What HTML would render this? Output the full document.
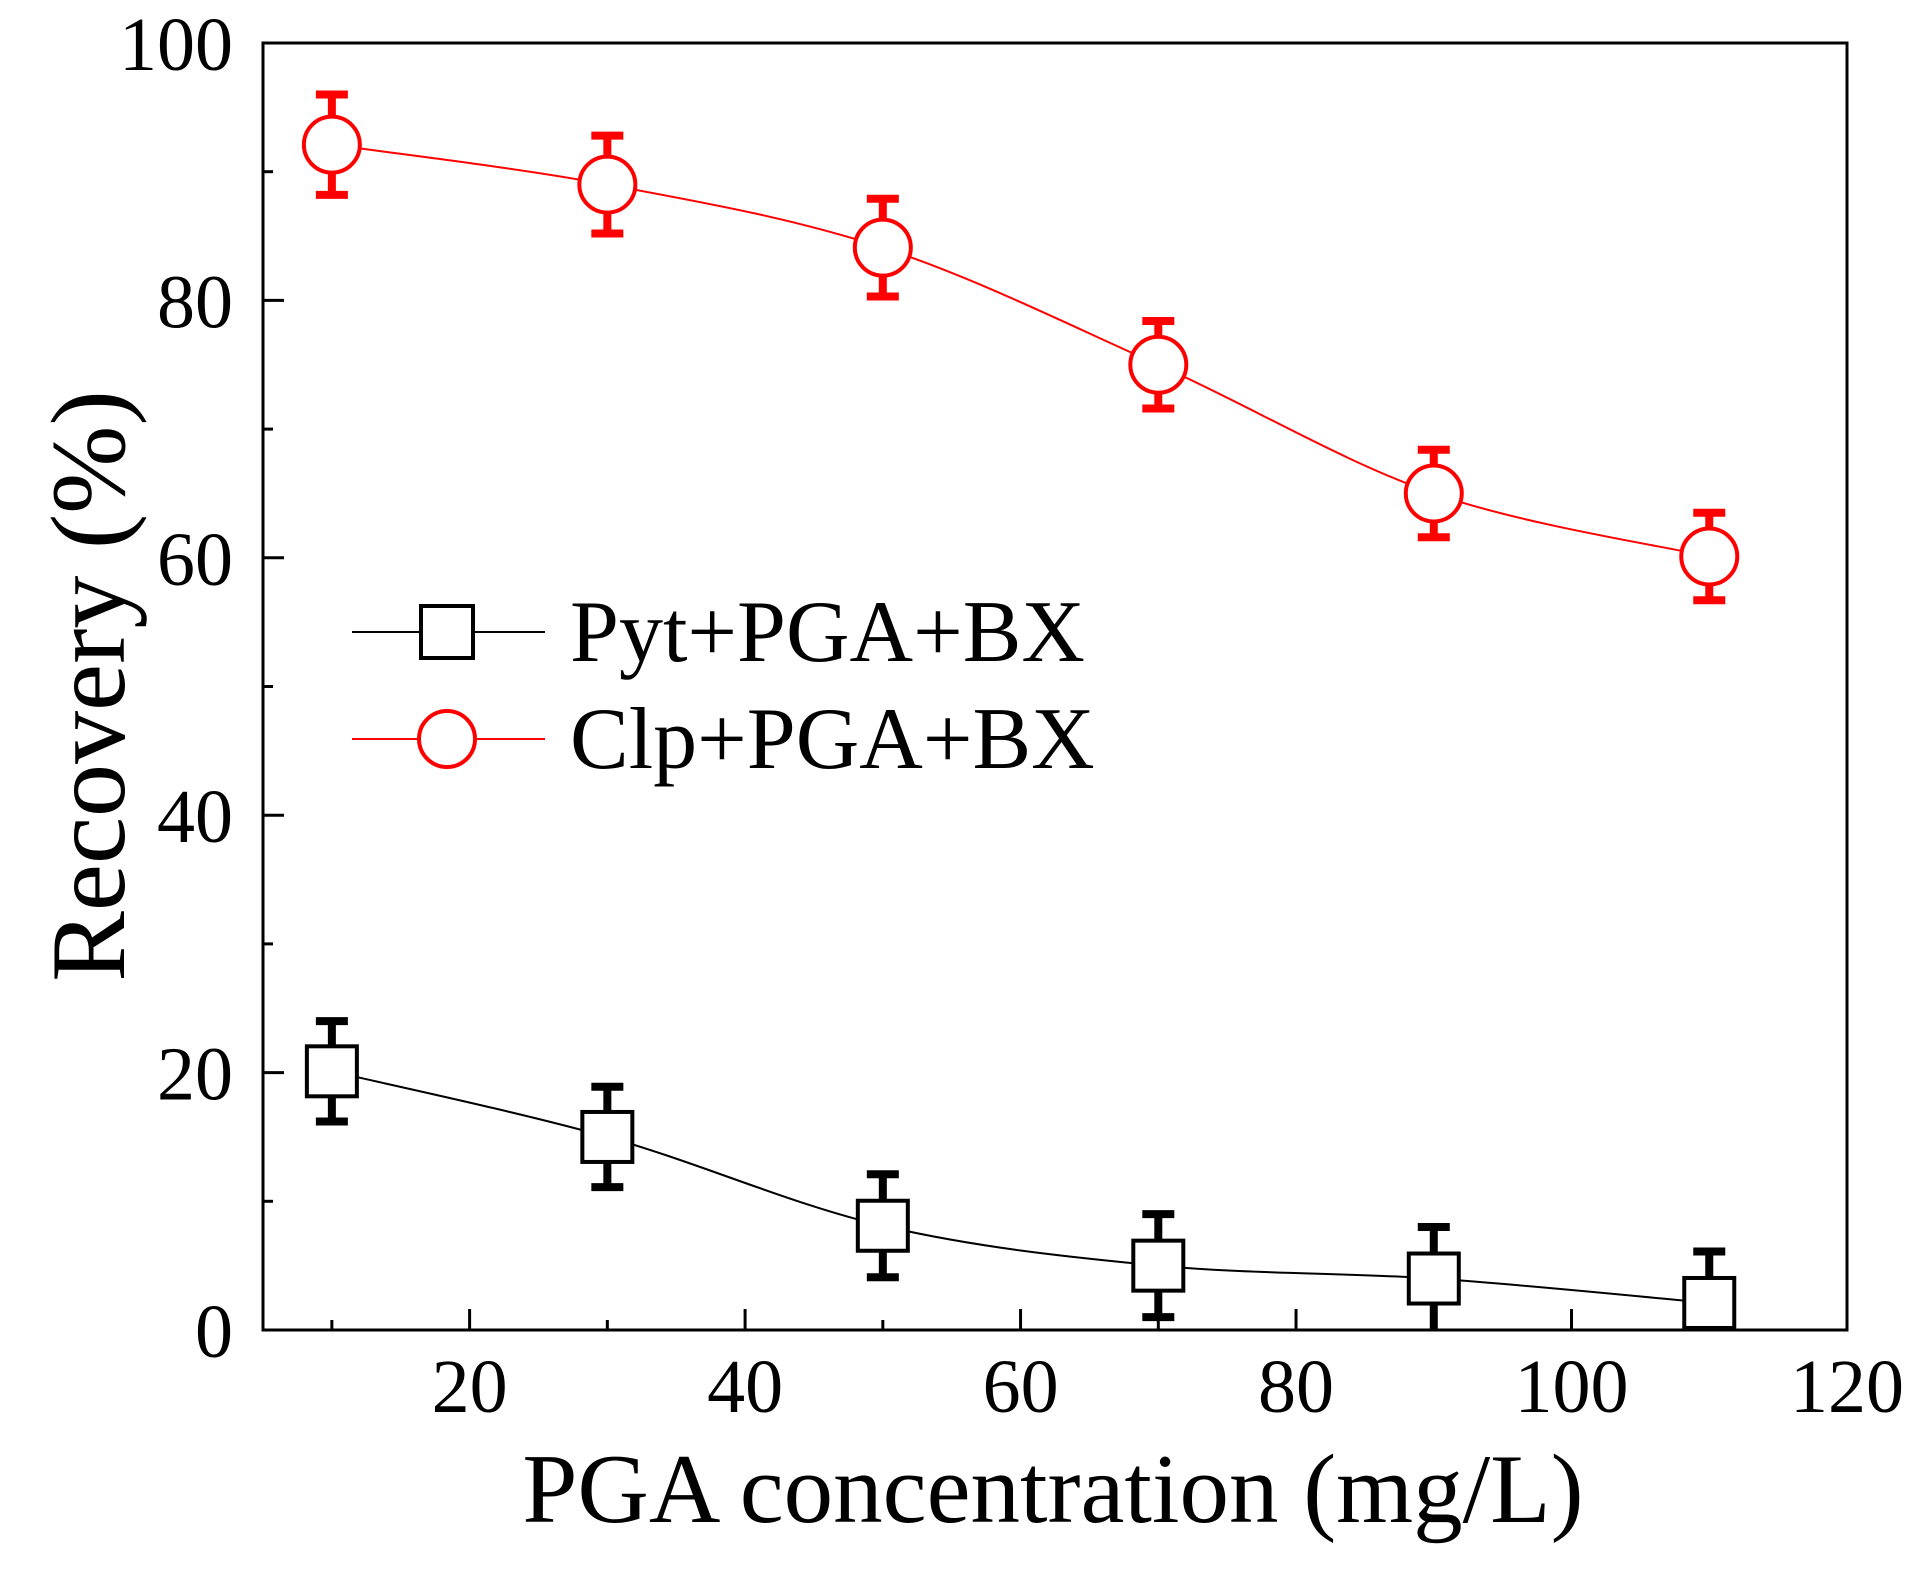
<!DOCTYPE html>
<html><head><meta charset="utf-8"><style>
html,body{margin:0;padding:0;background:#fff;}
svg{display:block;}
text{font-family:"Liberation Serif",serif;fill:#000;}
</style></head><body>
<svg id="chart" width="1922" height="1574" viewBox="0 0 1922 1574">
<defs><clipPath id="plotclip"><rect x="263" y="43" width="1584" height="1287"/></clipPath></defs>
<rect x="0" y="0" width="1922" height="1574" fill="#fff"/>
<g id="grid"></g>
<g id="series" clip-path="url(#plotclip)"></g>
<text x="1053" y="1522" font-size="99" text-anchor="middle">PGA concentration (mg/L)</text>
<text transform="translate(124,686) rotate(-90)" font-size="106" text-anchor="middle">Recovery (%)</text>
<g>
<g>
<line x1="352" y1="632" x2="545" y2="632" stroke="#000" stroke-width="2"/>
<rect x="421" y="606" width="52" height="52" fill="#fff" stroke="#000" stroke-width="4"/>
<text x="570" y="661" font-size="88">Pyt+PGA+BX</text>
</g>
<g>
<line x1="352" y1="739" x2="545" y2="739" stroke="#f00" stroke-width="2"/>
<circle cx="447" cy="739" r="28" fill="#fff" stroke="#f00" stroke-width="4"/>
<text x="570" y="768" font-size="88">Clp+PGA+BX</text>
</g>
</g>
</svg>
<script>
const xCats = [10, 30, 50, 70, 90, 110];
const clpValues = [92.1, 89.0, 84.1, 75.0, 65.0, 60.1];
const clpErrors = [3.9, 3.8, 3.8, 3.4, 3.4, 3.4];
const pytValues = [20.1, 15.0, 8.1, 5.0, 4.0, 2.1];
const pytErrors = [3.9, 3.9, 4.0, 4.0, 4.0, 4.0];
const xTicks = [20, 40, 60, 80, 100, 120];
const xMinorTicks = [10, 30, 50, 70, 90, 110];
const yTicks = [0, 20, 40, 60, 80, 100];
const yMinorTicks = [10, 30, 50, 70, 90];

const L = 263, R = 1847, T = 43, B = 1330;
const X0 = 5, X1 = 120, Y0 = 0, Y1 = 100;
function sx(v){ return L + (v - X0) / (X1 - X0) * (R - L); }
function sy(v){ return B - (v - Y0) / (Y1 - Y0) * (B - T); }
const NS = "http://www.w3.org/2000/svg";
function mk(tag, attrs, parent){
  const e = document.createElementNS(NS, tag);
  for (const k in attrs) e.setAttribute(k, attrs[k]);
  parent.appendChild(e); return e;
}
const grid = document.getElementById('grid');
const series = document.getElementById('series');

const frame = mk('rect', {x:L, y:T, width:R-L, height:B-T, fill:'none', stroke:'#000', 'stroke-width':3}, grid);



xTicks.forEach(v => {
  const t = mk('line', {x1:sx(v), y1:B, x2:sx(v), y2:B-21, stroke:'#000', 'stroke-width':3}, grid);
  
  
  const lb = mk('text', {x:sx(v), y:1412, 'font-size':76, 'text-anchor':'middle'}, grid);
  lb.textContent = v;
  
  
});
xMinorTicks.forEach(v => {
  const t = mk('line', {x1:sx(v), y1:B, x2:sx(v), y2:B-10, stroke:'#000', 'stroke-width':3}, grid);
  
  
});
yTicks.forEach(v => {
  const t = mk('line', {x1:L, y1:sy(v), x2:L+21, y2:sy(v), stroke:'#000', 'stroke-width':3}, grid);
  
  
  const lb = mk('text', {x:233, y:sy(v)+27, 'font-size':76, 'text-anchor':'end'}, grid);
  lb.textContent = v;
  
  
});
yMinorTicks.forEach(v => {
  const t = mk('line', {x1:L, y1:sy(v), x2:L+10, y2:sy(v), stroke:'#000', 'stroke-width':3}, grid);
  
  
});

function smoothPath(xs, ys){
  const p = xs.map((x,i)=>[sx(x), sy(ys[i])]);
  let d = 'M' + p[0][0] + ',' + p[0][1];
  for (let i = 0; i < p.length - 1; i++){
    const p0 = p[Math.max(0,i-1)], p1 = p[i], p2 = p[i+1], p3 = p[Math.min(p.length-1,i+2)];
    const c1 = [p1[0] + (p2[0]-p0[0])/6, p1[1] + (p2[1]-p0[1])/6];
    const c2 = [p2[0] - (p3[0]-p1[0])/6, p2[1] - (p3[1]-p1[1])/6];
    d += ' C' + c1[0] + ',' + c1[1] + ' ' + c2[0] + ',' + c2[1] + ' ' + p2[0] + ',' + p2[1];
  }
  return d;
}

function drawSeries(vals, errs, color, kind, name){
  const g = mk('g', {}, series);
  
  
  const ln = mk('path', {d:smoothPath(xCats, vals), fill:'none', stroke:color, 'stroke-width':2}, g);
  
  
  xCats.forEach((x, i) => {
    const cx = sx(x), cy = sy(vals[i]);
    const top = sy(vals[i] + errs[i]), bot = sy(vals[i] - errs[i]);
    const eb = mk('g', {}, g);
    
    
    mk('line', {x1:cx, y1:top, x2:cx, y2:bot, stroke:color, 'stroke-width':8}, eb);
    mk('line', {x1:cx-16, y1:top, x2:cx+16, y2:top, stroke:color, 'stroke-width':8}, eb);
    if (vals[i] - errs[i] > 0.3) mk('line', {x1:cx-16, y1:bot, x2:cx+16, y2:bot, stroke:color, 'stroke-width':8}, eb);
    let m;
    if (kind === 'circle') m = mk('circle', {cx:cx, cy:cy, r:28, fill:'#fff', stroke:color, 'stroke-width':4}, g);
    else m = mk('rect', {x:cx-25, y:cy-25, width:50, height:50, fill:'#fff', stroke:color, 'stroke-width':4}, g);
    
    
  });
}
drawSeries(clpValues, clpErrors, '#f00', 'circle', 'clp-series');
drawSeries(pytValues, pytErrors, '#000', 'square', 'pyt-series');
</script>
</body></html>
